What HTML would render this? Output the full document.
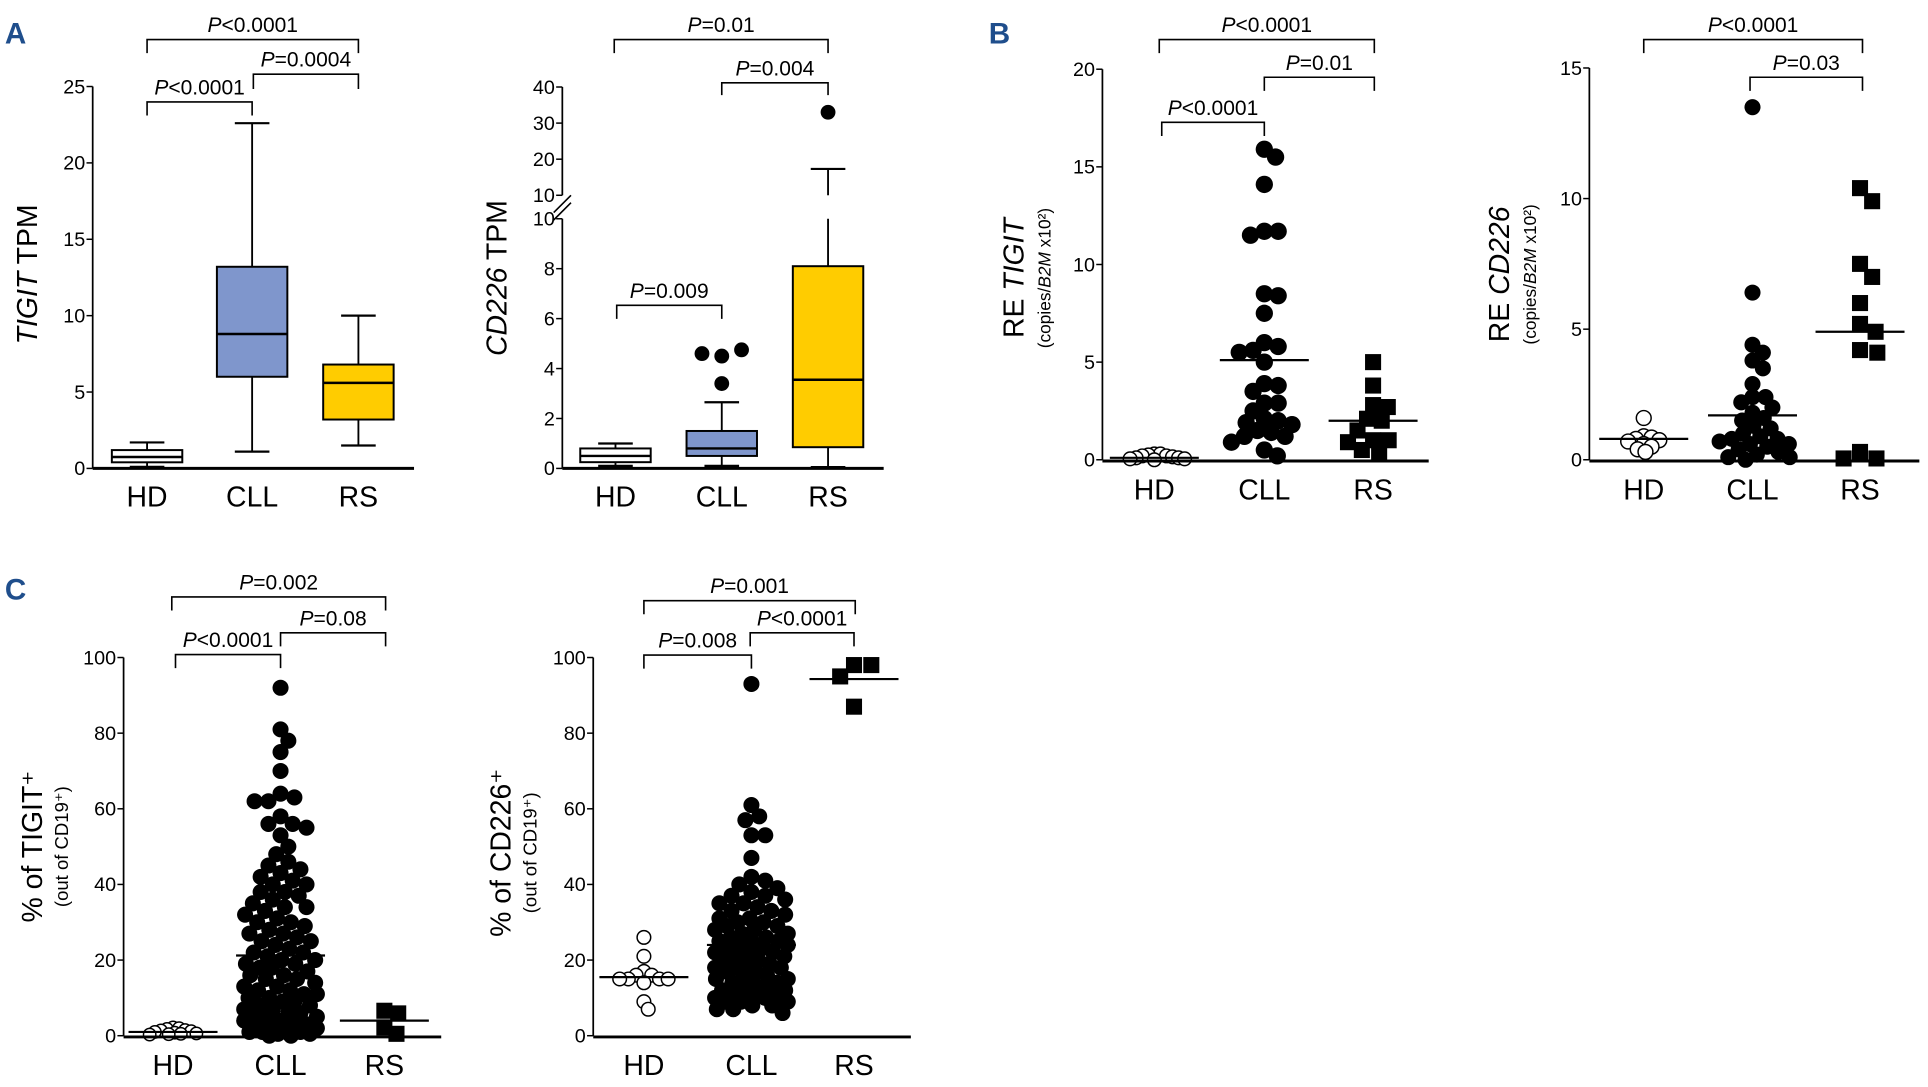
<!DOCTYPE html>
<html><head><meta charset="utf-8">
<style>
html,body{margin:0;padding:0;background:#fff;}
svg{display:block;}
text{font-family:"Liberation Sans Narrow","Liberation Sans",sans-serif;fill:#000;}
.t{font-family:"Liberation Sans",sans-serif;}
</style></head>
<body>
<svg id="fig" width="1928" height="1087" viewBox="0 0 1560 879.5" preserveAspectRatio="none"></svg>
<script>
// ---------- DATA ----------
const groups = ["HD","CLL","RS"];
// Panel A1: TIGIT TPM box stats [min,q1,median,q3,max]
const a1Stats = [[0.1,0.4,0.75,1.2,1.7],[1.1,6.0,8.8,13.2,22.6],[1.5,3.2,5.6,6.8,10.0]];
const a1Ticks = [0,5,10,15,20,25];
// Panel A2: CD226 TPM
const a2Stats = [[0.1,0.25,0.5,0.8,1.0],[0.1,0.5,0.8,1.5,2.65],[0.05,0.85,3.55,8.1,17.3]];
const a2Outliers = [[],[4.6,4.5,4.75,3.4],[33]];
const a2TicksLow = [0,2,4,6,8,10];
const a2TicksHigh = [10,20,30,40];
// Panel B1: RE TIGIT
const b1HD = [0.3,0.25,0.2,0.15,0.1,0.1,0.05,0.05,0.0,0.2,0.3];
const b1CLL = [15.9,15.5,14.1,11.7,11.5,11.7,8.4,8.5,7.5,6.0,5.8,5.6,5.0,5.5,3.8,3.9,3.5,2.9,2.9,2.5,2.1,2.0,1.8,1.9,1.5,1.4,1.2,1.2,0.9,0.5,0.2];
const b1RS = [5.0,3.8,2.8,2.7,2.1,2.0,1.5,1.0,0.9,1.0,0.5,0.3];
const b1Med = [0.1,5.1,2.0];
const b1Ticks = [0,5,10,15,20];
// Panel B2: RE CD226
const b2HD = [1.6,0.9,0.85,0.8,0.75,0.7,0.6,0.5,0.4,0.3];
const b2CLL = [13.5,6.4,4.4,4.1,3.8,3.5,2.9,2.4,2.2,2.0,2.4,1.8,1.5,1.3,1.2,1.0,0.9,0.8,0.8,0.6,0.5,0.4,0.3,0.2,0.1,0.1,0.0,0.6,0.7,1.6];
const b2RS = [10.4,9.9,7.5,7.0,6.0,5.2,4.9,4.2,4.1,0.3,0.05,0.05];
const b2Med = [0.8,1.7,4.9];
const b2Ticks = [0,5,10,15];
// Panel C1: % TIGIT+
const c1HD = [2.0,1.8,1.5,1.2,1.0,0.8,0.6,0.5,0.4,0.3,1.4,2.2];
const c1CLL = [92,81,78,75,70,64,63,62,62,58,56,56,55,53,50,48,46,45,43,42,41,40,40,38,37,36,35,34,33,32,31,30,29,28,27,26,25,25,24,23,22,21,20,20,19,18,18,17,16,15,15,14,13,12,12,11,10,10,9,9,8,8,7,7,6,6,5,5,5,4,4,3,3,3,2,2,2,1,1,1,0.5,0.5,0,0,11,13,16,19,22,27,30,34,38,44];
const c1RS = [6.6,5.9,2.2,0.5];
const c1Med = [1.0,21.2,4.0];
const c1Ticks = [0,20,40,60,80,100];
// Panel C2: % CD226+
const c2HD = [26,21,17,16,15,15,15,14,15,16,9,7];
const c2CLL = [93,61,58,57,53,53,47,42,41,40,39,38,37,37,36,35,34,33,33,32,31,31,30,29,29,28,28,27,27,26,26,25,25,24,24,23,23,22,22,21,21,20,20,19,19,18,18,17,17,16,16,15,15,14,14,13,13,12,12,12,11,11,11,10,10,10,9,9,9,8,8,7,7,6,30,35,25,22,18,14];
const c2RS = [98,98,95,87];
const c2Med = [15.5,24.0,94.3];
const c2Ticks = [0,20,40,60,80,100];

// ---------- HELPERS ----------
const svg = document.getElementById('fig');
const NS = svg.namespaceURI;
function mk(tag, attrs, parent){
  const e = document.createElementNS(NS, tag);
  for (const k in attrs) e.setAttribute(k, attrs[k]);
  (parent||svg).appendChild(e);
  return e;
}
function lin(d0,d1,r0,r1){ return v => r0 + (v-d0)*(r1-r0)/(d1-d0); }
function grp(name){
  const g = mk('g',{});
  
  
  return g;
}
function yAxis(g, x, ys, ticks, y0, y1){
  const l = mk('line',{x1:x,y1:y0,x2:x,y2:y1,stroke:'#000','stroke-width':1.4},g);
  
  
  ticks.forEach(t=>{
    const y = ys(t);
    const tk = mk('line',{x1:x-5,y1:y,x2:x,y2:y,stroke:'#000','stroke-width':1.2},g);
    
    
    const tx = mk('text',{x:x-6,y:y+5.5,'text-anchor':'end','font-size':16},g);
    tx.textContent = t;
    
    
  });
}
function xAxis(g, x0, x1, y, centers){
  const l = mk('line',{x1:x0,y1:y,x2:x1,y2:y,stroke:'#000','stroke-width':2.4},g);
  
  
  centers.forEach((c,i)=>{
    const t = mk('text',{x:c,y:y+31,'text-anchor':'middle','font-size':23},g);
    t.textContent = groups[i];
    
    
  });
}
function bracket(g, xa, xb, y, leg, label){
  const p = mk('path',{d:`M${xa},${y+leg} V${y} H${xb} V${y+leg}`,fill:'none',stroke:'#000','stroke-width':1.3},g);
  
  
  const t = mk('text',{x:(xa+xb)/2,y:y-6,'text-anchor':'middle','font-size':17},g);
  const i = mk('tspan',{'font-style':'italic'},t); i.textContent='P';
  const r = mk('tspan',{},t); r.textContent=label;
  
  
}
function ytitle(g, x, y, parts, size){
  const t = mk('text',{x:x,y:y,'text-anchor':'middle','font-size':size,transform:`rotate(-90 ${x} ${y})`,class:'t'},g);
  parts.forEach(p=>{ const s = mk('tspan',p[1]?{'font-style':'italic'}:{},t); s.textContent=p[0]; });
  
  
  return t;
}
function box(g, cx, hw, ys, st, fill){
  const [mn,q1,md,q3,mx] = st;
  const w = mk('line',{x1:cx,y1:ys(mn),x2:cx,y2:ys(mx),stroke:'#000','stroke-width':1.5},g);
  
  
  [mn,mx].forEach(v=>{
    const c = mk('line',{x1:cx-14,y1:ys(v),x2:cx+14,y2:ys(v),stroke:'#000','stroke-width':1.8},g);
    
    
  });
  const r = mk('rect',{x:cx-hw,y:ys(q3),width:2*hw,height:ys(q1)-ys(q3),fill:fill,stroke:'#000','stroke-width':1.6},g);
  
  
  const m = mk('line',{x1:cx-hw,y1:ys(md),x2:cx+hw,y2:ys(md),stroke:'#000','stroke-width':2},g);
  
  
}
function swarm(vals, cx, ys, minD, maxW){
  const pts=[];
  const sorted = vals.slice().sort((a,b)=>b-a);
  sorted.forEach(v=>{
    const y = ys(v);
    let best=null, bestD=-1, placed=false;
    for(let k=0;k<400;k++){
      const dx = (k%2?1:-1)*Math.ceil(k/2)*0.7;
      if(Math.abs(dx)>maxW) break;
      const x = cx+dx;
      let md = Infinity;
      pts.forEach(p=>{ const d=Math.hypot(p[0]-x,p[1]-y); if(d<md) md=d; });
      if(md>=minD){ pts.push([x,y]); placed=true; break; }
      if(md>bestD){ bestD=md; best=x; }
    }
    if(!placed) pts.push([best,y]);
  });
  return pts;
}
function dots(g, vals, cx, ys, shape, r, minD, maxW){
  swarm(vals,cx,ys,minD,maxW||36).forEach(p=>{
    let e;
    if(shape==='open') e = mk('circle',{cx:p[0],cy:p[1],r:r,fill:'#fff',stroke:'#000','stroke-width':1.2},g);
    else if(shape==='sq') e = mk('rect',{x:p[0]-r,y:p[1]-r,width:2*r,height:2*r,fill:'#000'},g);
    else e = mk('circle',{cx:p[0],cy:p[1],r:r,fill:'#000'},g);
    
    
  });
}
function med(g, cx, y, hw){
  const m = mk('line',{x1:cx-hw,y1:y,x2:cx+hw,y2:y,stroke:'#000','stroke-width':1.8},g);
  
  
}
function letter(x,y,s){
  const t = mk('text',{x:x,y:y,'font-size':24,'font-weight':'bold',fill:'#1f4e8c',class:'t',style:'fill:#1f4e8c'});
  t.textContent = s;
  
  
}

// ---------- PANEL A1 ----------
letter(4,35,'A');
{
  const g = grp('panel-a-tigit-tpm');
  const ys = lin(0,25,379,70);
  const cx = [119,204,290];
  yAxis(g,75,ys,a1Ticks,379,70);
  a1Stats.forEach((s,i)=>box(g,cx[i],28.5,ys,s,['#ffffff','#7f96cc','#ffcc00'][i]));
  xAxis(g,75,335,379,cx);
  ytitle(g,30,222,[['TIGIT',1],[' TPM',0]],23);
  bracket(g,119,204,82.5,11,'<0.0001');
  bracket(g,205,290,60,12,'=0.0004');
  bracket(g,119,290,32,11,'<0.0001');
}
// ---------- PANEL A2 ----------
{
  const g = grp('panel-a-cd226-tpm');
  const low = lin(0,10,379,177);
  const high = lin(10,40,158,70.4);
  const ys = v => v<=10 ? low(v) : high(v);
  const cx = [498,584,670];
  yAxis(g,455,low,a2TicksLow,379,177);
  yAxis(g,455,high,a2TicksHigh,158,70.4);
  const br = mk('path',{d:'M448,172 L462,158 M448,178 L462,164',stroke:'#000','stroke-width':1.3,fill:'none'},g);
  
  
  a2Stats.forEach((s,i)=>box(g,cx[i],28.5,ys,s,['#ffffff','#7f96cc','#ffcc00'][i]));
  const gap = mk('rect',{x:cx[2]-4,y:158,width:8,height:19,fill:'#fff'},g);
  
  
  const ox = [[],[568,584,600,584],[670]];
  a2Outliers.forEach((arr,i)=>arr.forEach((v,j)=>{
    const c = mk('circle',{cx:ox[i][j],cy:ys(v),r:6,fill:'#000'},g);
    
    
  }));
  xAxis(g,455,715,379,cx);
  ytitle(g,410,225,[['CD226',1],[' TPM',0]],23);
  bracket(g,499,584,247,11,'=0.009');
  bracket(g,584,670,67,10,'=0.004');
  bracket(g,497,670,32,11,'=0.01');
}
// ---------- PANEL B1 ----------
letter(800,35,'B');
{
  const g = grp('panel-b-re-tigit');
  const ys = lin(0,20,372,56);
  const cx = [934,1023,1111];
  yAxis(g,892,ys,b1Ticks,372,56);
  dots(g,b1HD,cx[0],ys,'open',5.5,4.5,36);
  dots(g,b1CLL,cx[1],ys,'fill',7,11,36);
  dots(g,b1RS,cx[2],ys,'sq',6.5,12,36);
  b1Med.forEach((m,i)=>med(g,cx[i],ys(m),36));
  xAxis(g,892,1156,373,cx);
  ytitle(g,828,225,[['RE ',0],['TIGIT',1]],23);
  ytitle(g,850,225,[['(copies/',0],['B2M',1],[' x10²)',0]],14);
  bracket(g,940,1023,99,11,'<0.0001');
  bracket(g,1023,1112,62.5,11,'=0.01');
  bracket(g,938,1112,32,11,'<0.0001');
}
// ---------- PANEL B2 ----------
{
  const g = grp('panel-b-re-cd226');
  const ys = lin(0,15,372,55);
  const cx = [1330,1418,1505];
  yAxis(g,1286,ys,b2Ticks,372,55);
  dots(g,b2HD,cx[0],ys,'open',6,6,30);
  dots(g,b2CLL,cx[1],ys,'fill',6.5,10,36);
  dots(g,b2RS,cx[2],ys,'sq',6.5,14,36);
  b2Med.forEach((m,i)=>med(g,cx[i],ys(m),36));
  xAxis(g,1286,1553,373,cx);
  ytitle(g,1221,222,[['RE ',0],['CD226',1]],23);
  ytitle(g,1243,222,[['(copies/',0],['B2M',1],[' x10²)',0]],14);
  bracket(g,1416,1507,62.5,11,'=0.03');
  bracket(g,1330,1507,32,11,'<0.0001');
}
// ---------- PANEL C1 ----------
letter(4,485,'C');
{
  const g = grp('panel-c-tigit-percent');
  const ys = lin(0,100,838,532);
  const cx = [140,227,311];
  yAxis(g,100,ys,c1Ticks,838,532);
  dots(g,c1HD,cx[0],ys,'open',5,4.5,28);
  dots(g,c1CLL,cx[1],ys,'fill',6.5,11,30);
  dots(g,c1RS,cx[2],ys,'sq',6.5,11,36);
  c1Med.forEach((m,i)=>med(g,cx[i],ys(m),36));
  xAxis(g,100,357,839,cx);
  ytitle(g,34,685,[['% of TIGIT⁺',0]],23);
  ytitle(g,55,685,[['(out of CD19⁺)',0]],15);
  bracket(g,142,227,529.6,11,'<0.0001');
  bracket(g,227,312,512,11,'=0.08');
  bracket(g,139,312,483,11,'=0.002');
}
// ---------- PANEL C2 ----------
{
  const g = grp('panel-c-cd226-percent');
  const ys = lin(0,100,838,532);
  const cx = [521,608,691];
  yAxis(g,480,ys,c2Ticks,838,532);
  dots(g,c2HD,cx[0],ys,'open',5.5,7,30);
  dots(g,c2CLL,cx[1],ys,'fill',6.5,11,30);
  dots(g,c2RS,cx[2],ys,'sq',6.5,14,40);
  c2Med.forEach((m,i)=>med(g,cx[i],ys(m),36));
  xAxis(g,480,737,839,cx);
  ytitle(g,413,690,[['% of CD226⁺',0]],23);
  ytitle(g,434,690,[['(out of CD19⁺)',0]],15);
  bracket(g,521,608,530,11,'=0.008');
  bracket(g,607,691,512,11,'<0.0001');
  bracket(g,521,692,486,11,'=0.001');
}
</script>
</body></html>
